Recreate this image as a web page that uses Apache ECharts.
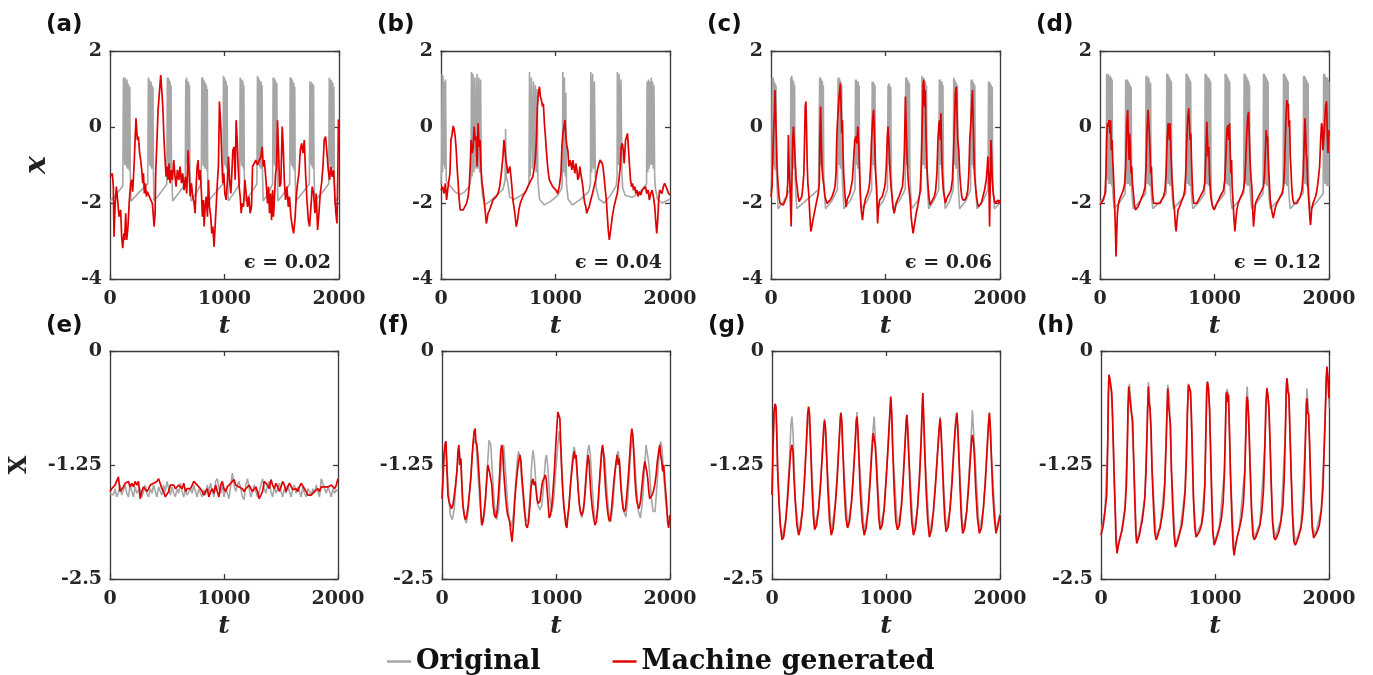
<!DOCTYPE html>
<html><head><meta charset="utf-8">
<script src="https://cdn.jsdelivr.net/npm/echarts@6/dist/echarts.min.js"></script>
<style>html,body{margin:0;padding:0;background:#fff}#c{width:1373px;height:675px}</style>
</head><body><div id="c"></div>
<script>
// ---------------- tick labels ----------------
const xTicks = [0, 1000, 2000];
const topTicks = [-4, -2, 0, 2];
const botTicks = [-2.5, -1.25, 0];
const panelLabels = ['(a)','(b)','(c)','(d)','(e)','(f)','(g)','(h)'];
const epsLabels = ['\u03f5 = 0.02','\u03f5 = 0.04','\u03f5 = 0.06','\u03f5 = 0.12'];
const seriesNames = ['Original','Machine generated'];

// ---------------- panel (a) ----------------
const aOrig = [[0,-1.95],[60,-1.75],[112,-1.55],
[117,1.3],[121,-0.9],[125,1.25],[129,-1.0],[133,1.3],[137,-1.0],[141,1.2],[145,-1.05],[149,1.25],[153,-1.1],[157,1.15],[161,-1.1],[165,1.1],[169,-1.15],[173,1.05],[177,-1.2],[183,-1.95],
[260,-1.7],[330,-1.5],
[335,1.3],[339,-0.9],[343,1.25],[347,-1.0],[351,1.2],[355,-1.05],[359,1.2],[363,-1.1],[367,1.1],[371,-1.1],[375,1.05],[379,-1.2],[385,-1.95],
[450,-1.7],[496,-1.5],
[501,1.3],[505,-0.9],[509,1.3],[513,-1.0],[517,1.25],[521,-1.05],[525,1.2],[529,-1.1],[533,1.1],[537,-1.15],[541,-1.3],[547,-1.95],
[610,-1.7],[657,-1.5],
[662,1.25],[666,-0.9],[670,1.3],[674,-1.0],[678,1.2],[682,-1.05],[686,1.2],[690,-1.1],[694,1.1],[698,-1.15],[702,-1.3],[708,-1.95],
[760,-1.7],[797,-1.5],
[802,1.3],[806,-0.9],[810,1.3],[814,-1.0],[818,1.25],[822,-1.05],[826,1.2],[830,-1.1],[834,1.15],[838,-1.1],[842,1.1],[846,-1.15],[850,1.0],[853,-1.3],[859,-1.95],
[930,-1.7],[986,-1.5],
[991,1.35],[995,-0.9],[999,1.3],[1003,-1.0],[1007,1.25],[1011,-1.05],[1015,1.2],[1019,-1.1],[1023,1.1],[1027,-1.25],[1033,-1.95],
[1090,-1.7],[1132,-1.5],
[1137,1.3],[1141,-0.9],[1145,1.25],[1149,-1.0],[1153,1.25],[1157,-1.05],[1161,1.2],[1165,-1.1],[1169,1.1],[1173,-1.25],[1179,-1.95],
[1240,-1.7],[1283,-1.5],
[1288,1.35],[1292,-0.9],[1296,1.3],[1300,-1.0],[1304,1.25],[1308,-1.05],[1312,1.2],[1316,-1.1],[1320,1.2],[1324,-1.1],[1328,1.1],[1332,-1.25],[1338,-1.95],
[1390,-1.7],[1420,-1.5],
[1425,1.3],[1429,-0.9],[1433,1.3],[1437,-1.0],[1441,1.25],[1445,-1.05],[1449,1.2],[1453,-1.1],[1457,1.15],[1461,-1.2],[1467,-1.95],
[1530,-1.7],[1569,-1.5],
[1574,1.3],[1578,-0.9],[1582,1.3],[1586,-1.0],[1590,1.25],[1594,-1.05],[1598,1.2],[1602,-1.1],[1606,1.15],[1610,-1.15],[1614,1.05],[1617,-1.3],[1623,-1.95],
[1690,-1.7],[1741,-1.5],
[1746,1.2],[1750,-0.9],[1754,1.2],[1758,-1.0],[1762,1.15],[1766,-1.05],[1770,1.15],[1774,-1.1],[1778,1.1],[1782,-1.2],[1788,-1.95],
[1860,-1.7],[1910,-1.5],
[1915,1.3],[1919,-0.9],[1923,1.25],[1927,-1.0],[1931,1.25],[1935,-1.05],[1939,1.2],[1943,-1.1],[1947,1.15],[1951,-1.1],[1955,1.05],[1959,-1.25],[1965,-1.95],
[2000,-1.85]];
const aPred = [[0,-1.31],[20,-1.22],[29,-1.57],[35,-2.89],[44,-2.10],[55,-1.57],[64,-1.83],[79,-2.36],[93,-2.18],[102,-2.89],[111,-3.19],[122,-2.80],[128,-2.97],[137,-2.27],[146,-2.97],[157,-2.62],[169,-1.92],[181,-1.48],[189,-1.39],[198,-1.70],[210,-1.04],[219,-0.34],[227,0.23],[239,-0.34],[248,-0.25],[259,-0.69],[268,-0.87],[277,-1.13],[286,-1.48],[292,-1.22],[300,-1.75],[309,-1.48],[318,-1.83],[326,-1.70],[341,-1.75],[356,-1.92],[370,-2.01],[379,-2.36],[385,-2.62],[394,-2.27],[399,-1.22],[408,-0.52],[420,0.45],[431,0.89],[443,1.37],[452,0.97],[461,0.54],[472,-0.34],[481,-0.87],[490,-1.31],[498,-1.04],[507,-1.39],[516,-0.96],[525,-1.48],[533,-1.13],[545,-1.39],[557,-0.87],[568,-1.31],[577,-1.57],[589,-1.13],[601,-1.39],[612,-1.04],[624,-1.48],[635,-1.22],[647,-1.66],[659,-1.31],[670,-1.75],[682,-0.61],[691,-1.22],[700,-1.83],[711,-1.48],[723,-1.83],[735,-2.01],[743,-2.27],[752,-1.57],[761,-1.04],[770,-0.87],[778,-1.39],[787,-1.13],[799,-1.75],[807,-2.36],[816,-1.92],[822,-2.62],[831,-2.10],[840,-1.83],[851,-2.36],[860,-1.39],[869,-2.10],[880,-2.36],[889,-2.80],[898,-2.62],[909,-3.15],[918,-2.62],[927,-2.10],[939,-1.39],[947,-1.04],[956,0.67],[968,-0.02],[977,-0.87],[985,-1.48],[994,-1.22],[1003,-1.75],[1014,-1.92],[1026,-1.39],[1035,-0.78],[1044,-1.39],[1055,-1.75],[1064,-1.22],[1073,-0.61],[1084,-0.52],[1093,-1.39],[1102,0.18],[1111,-0.34],[1119,-1.04],[1128,-1.57],[1137,-1.83],[1146,-2.27],[1154,-2.01],[1166,-2.10],[1178,-1.39],[1189,-1.75],[1201,-2.10],[1213,-1.83],[1224,-2.27],[1236,-2.10],[1245,-1.04],[1259,-0.96],[1274,-0.87],[1288,-1.00],[1303,-0.96],[1318,-0.78],[1329,-0.52],[1338,-1.04],[1347,-0.87],[1355,-1.13],[1364,-1.48],[1376,-2.01],[1385,-1.57],[1393,-2.27],[1402,-1.75],[1411,-2.45],[1420,-1.66],[1428,-2.36],[1437,-1.83],[1446,-1.22],[1455,-1.04],[1463,0.18],[1472,-0.61],[1481,-1.57],[1492,-1.48],[1504,0.01],[1513,-0.52],[1522,-1.39],[1533,-1.92],[1545,-1.57],[1557,-2.10],[1568,-1.83],[1580,-2.36],[1592,-2.62],[1603,-2.80],[1615,-2.45],[1627,-1.83],[1638,-1.48],[1650,-1.22],[1662,-0.61],[1673,-0.43],[1685,-0.69],[1697,-0.34],[1708,-1.22],[1720,-1.92],[1732,-2.45],[1743,-2.62],[1755,-2.10],[1766,-1.57],[1778,-1.75],[1790,-2.27],[1801,-1.75],[1813,-2.71],[1825,-2.27],[1836,-1.75],[1848,-1.48],[1860,-1.04],[1871,-0.34],[1883,-0.25],[1895,-0.69],[1906,-1.13],[1918,-1.39],[1929,-1.04],[1941,-1.31],[1953,-1.13],[1965,-1.92],[1973,-2.27],[1982,-2.54],[1990,-1.2],[1995,0.2],[2000,-0.4]];

// ---------------- panel (b) ----------------
const bOrig = [[0,-1.5],[6,-0.8],[10,1.4],[14,-1.2],[18,1.35],[24,-1.0],[28,1.2],[34,-1.1],[40,1.25],[46,-1.4],[60,-1.5],[80,-1.55],[120,-1.7],[165,-1.78],[210,-1.7],[250,-1.55],[262,-1.3],[266,1.45],[272,-1.3],[280,1.4],[288,-1.2],[296,1.3],[306,-1.1],[314,1.4],[322,-1.1],[330,1.3],[338,-1.2],[346,1.25],[352,-1.4],[362,-1.8],[382,-2.05],[430,-1.95],[483,-1.8],[540,-1.65],[560,-1.4],[564,-0.05],[570,-1.3],[582,-1.45],[590,-1.6],[600,-1.85],[640,-1.9],[700,-1.8],[744,-1.7],[768,-1.5],[773,1.45],[780,-1.3],[790,1.3],[800,-1.1],[808,1.2],[816,-1.0],[824,1.1],[832,-1.2],[840,1.0],[846,-1.4],[860,-1.9],[903,-2.05],[960,-1.95],[1020,-1.8],[1055,-1.6],[1060,-1.3],[1064,1.45],[1070,-1.2],[1078,1.3],[1086,-1.3],[1090,0.9],[1096,-1.5],[1110,-1.9],[1149,-2.05],[1220,-1.9],[1290,-1.7],[1305,-1.5],[1308,1.45],[1316,-1.2],[1324,1.4],[1332,-1.1],[1340,1.2],[1348,-1.3],[1355,-1.6],[1380,-1.9],[1424,-2.0],[1480,-1.8],[1530,-1.55],[1538,-1.3],[1540,1.45],[1548,-1.0],[1556,1.4],[1564,-1.1],[1572,1.25],[1580,-1.2],[1586,-1.6],[1610,-1.8],[1670,-1.85],[1740,-1.7],[1795,-1.5],[1800,1.2],[1806,-1.2],[1812,1.25],[1818,-1.1],[1824,1.2],[1830,-1.0],[1836,1.3],[1842,-1.0],[1848,1.2],[1854,-1.1],[1860,1.1],[1866,-1.3],[1872,-1.6],[1890,-1.9],[1930,-2.0],[2000,-1.9]];
const bPred = [[0,-1.66],[14,-1.57],[26,-1.75],[38,-1.48],[49,-1.92],[58,-1.66],[67,-1.61],[78,-1.22],[87,-0.34],[96,-0.21],[107,0.03],[116,-0.08],[124,-0.25],[133,-0.61],[142,-1.13],[150,-1.48],[159,-1.92],[168,-2.18],[179,-2.23],[194,-2.18],[208,-2.14],[223,-2.01],[237,-1.83],[246,-1.57],[255,-1.04],[263,-0.34],[272,-0.69],[281,-0.52],[289,0.01],[298,-0.34],[307,-0.25],[315,-1.04],[324,0.10],[333,-0.52],[341,-0.34],[350,-1.13],[359,-1.48],[368,-1.66],[376,-1.92],[385,-2.18],[396,-2.54],[411,-2.27],[425,-2.18],[440,-2.05],[454,-1.92],[469,-1.88],[483,-1.83],[498,-1.75],[512,-1.57],[527,-1.22],[541,-0.78],[550,-0.34],[559,-0.61],[567,-0.87],[576,-1.04],[585,-1.22],[593,-1.13],[602,-1.04],[611,-1.31],[619,-1.57],[628,-1.92],[637,-2.10],[645,-2.27],[657,-2.62],[669,-2.45],[680,-2.18],[692,-2.01],[703,-1.92],[715,-1.83],[729,-1.75],[744,-1.66],[758,-1.57],[773,-1.48],[787,-1.39],[802,-1.31],[816,-1.04],[825,-0.78],[833,-0.34],[842,0.54],[851,0.89],[860,1.06],[868,0.80],[877,0.71],[886,0.54],[894,0.62],[903,0.10],[912,-0.25],[920,-0.61],[929,-0.96],[938,-1.22],[946,-1.39],[961,-1.48],[975,-1.57],[990,-1.61],[1004,-1.66],[1019,-1.75],[1033,-1.57],[1048,-1.22],[1056,-0.52],[1065,-0.17],[1074,0.01],[1082,0.18],[1091,-0.25],[1100,-0.52],[1108,-0.61],[1117,-1.04],[1126,-0.87],[1134,-0.96],[1143,-1.13],[1152,-0.87],[1160,-1.04],[1169,-1.22],[1178,-0.96],[1187,-1.13],[1195,-1.39],[1204,-1.31],[1213,-1.04],[1221,-1.22],[1230,-1.39],[1239,-1.57],[1247,-1.83],[1256,-2.01],[1265,-2.10],[1273,-2.27],[1282,-2.18],[1294,-2.10],[1308,-1.92],[1323,-1.75],[1337,-1.57],[1351,-1.39],[1366,-1.13],[1380,-0.96],[1389,-0.87],[1398,-0.91],[1409,-0.96],[1418,-1.13],[1427,-1.39],[1435,-1.66],[1444,-1.92],[1453,-2.36],[1461,-2.71],[1470,-2.97],[1482,-2.71],[1496,-2.36],[1511,-2.10],[1525,-1.92],[1540,-1.75],[1554,-1.39],[1566,-1.04],[1574,-0.52],[1583,-0.43],[1592,-0.61],[1600,-0.96],[1612,-0.34],[1621,-0.25],[1629,-0.17],[1638,-0.61],[1647,-1.04],[1655,-1.39],[1664,-1.57],[1673,-1.48],[1681,-1.66],[1693,-1.57],[1702,-1.75],[1713,-1.66],[1722,-1.83],[1733,-1.70],[1745,-1.79],[1757,-1.66],[1771,-1.70],[1786,-1.57],[1797,-1.75],[1809,-1.66],[1820,-1.92],[1832,-1.75],[1843,-1.66],[1855,-1.83],[1867,-2.10],[1875,-2.45],[1884,-2.80],[1893,-2.45],[1901,-1.92],[1910,-1.66],[1919,-1.70],[1930,-1.75],[1942,-1.57],[1953,-1.48],[1965,-1.57],[1977,-1.66],[1988,-1.75],[2000,-1.79]];

// ---------------- panel (c) ----------------
const cOrig = [[0,-1.7],[8,-1.3],[12,1.3],[16,-1.0],[20,1.3],[24,-1.0],[28,1.2],[32,-1.1],[36,1.15],[40,-1.15],[44,1.1],[48,-1.2],[54,-1.6],[62,-2.15],[110,-1.95],[165,-1.65],[170,-1.3],[173,1.3],[177,-1.0],[182,1.35],[186,-1.0],[190,1.25],[194,-1.1],[198,1.2],[202,-1.1],[206,1.1],[210,-1.25],[216,-1.7],[225,-2.15],[300,-1.95],[415,-1.65],
[420,-1.6],[425,1.3],[429,-1.0],[433,1.3],[437,-1.0],[441,1.25],[445,-1.1],[449,1.2],[453,-1.1],[457,1.1],[461,-1.25],[467,-1.7],[476,-2.15],[530,-1.95],[580,-1.65],
[586,1.3],[590,-1.0],[594,1.3],[598,-1.0],[602,1.25],[606,-1.1],[610,1.2],[614,-1.1],[618,1.1],[622,-1.25],[628,-1.7],[637,-2.15],[690,-1.95],[733,-1.65],
[738,1.25],[742,-1.0],[746,1.25],[750,-1.0],[754,1.2],[758,-1.1],[762,1.2],[766,-1.1],[770,1.1],[774,-1.25],[780,-1.7],[789,-2.15],[840,-1.95],[879,-1.65],
[884,1.2],[888,-1.0],[892,1.2],[896,-1.0],[900,1.15],[904,-1.1],[908,1.1],[912,-1.1],[915,-1.3],[921,-1.7],[930,-2.15],[980,-1.95],[1017,-1.65],
[1022,1.1],[1026,-1.0],[1030,1.15],[1034,-1.0],[1038,1.1],[1042,-1.1],[1046,1.05],[1050,-1.2],[1056,-1.7],[1065,-2.15],[1120,-1.95],[1172,-1.65],
[1177,1.3],[1181,-1.0],[1185,1.3],[1189,-1.0],[1193,1.25],[1197,-1.1],[1201,1.2],[1205,-1.1],[1209,1.15],[1213,-1.2],[1219,-1.7],[1228,-2.15],[1280,-1.95],[1313,-1.65],
[1318,1.35],[1322,-1.0],[1326,1.3],[1330,-1.0],[1334,1.3],[1338,-1.0],[1342,1.2],[1346,-1.1],[1350,1.2],[1354,-1.1],[1358,1.1],[1362,-1.25],[1368,-1.7],[1377,-2.15],[1420,-1.95],[1465,-1.65],
[1470,1.25],[1474,-1.0],[1478,1.25],[1482,-1.0],[1486,1.2],[1490,-1.1],[1494,1.2],[1498,-1.1],[1502,1.1],[1506,-1.2],[1512,-1.7],[1521,-2.15],[1560,-1.95],[1591,-1.65],
[1596,1.3],[1600,-1.0],[1604,1.25],[1608,-1.0],[1612,1.2],[1616,-1.1],[1620,1.15],[1624,-1.1],[1628,1.1],[1632,-1.25],[1638,-1.7],[1647,-2.15],[1700,-1.95],[1743,-1.65],
[1748,1.25],[1752,-1.0],[1756,1.25],[1760,-1.0],[1764,1.2],[1768,-1.1],[1772,1.15],[1776,-1.1],[1780,1.1],[1784,-1.25],[1790,-1.7],[1799,-2.15],[1850,-1.95],[1895,-1.65],
[1900,1.2],[1904,-1.0],[1908,1.2],[1912,-1.0],[1916,1.15],[1920,-1.1],[1924,1.1],[1928,-1.1],[1932,1.05],[1936,-1.2],[1942,-1.7],[1951,-2.15],[2000,-2.0]];
const cPred = [[0,-1.83],[9,-1.57],[18,-0.52],[23,-0.08],[29,0.27],[35,0.97],[41,0.27],[47,-0.34],[53,-1.04],[61,-1.48],[70,-1.83],[79,-2.01],[94,-2.05],[108,-2.05],[123,-2.01],[138,-1.83],[146,-1.48],[152,-0.21],[158,-1.04],[167,-1.66],[176,-2.62],[184,-1.22],[190,-0.34],[196,0.01],[205,-0.52],[211,-0.87],[220,-1.39],[228,-1.57],[237,-1.83],[246,-1.96],[255,-1.92],[269,-1.83],[278,-1.57],[287,-1.22],[293,-0.34],[299,0.54],[305,0.67],[310,0.01],[316,-0.96],[322,-1.48],[331,-1.83],[340,-2.36],[348,-2.75],[357,-2.62],[366,-2.45],[378,-2.27],[389,-2.10],[401,-1.92],[413,-1.75],[422,-1.48],[427,-0.34],[433,0.54],[439,-0.34],[445,-1.04],[454,-1.39],[463,-1.57],[471,-1.83],[480,-1.92],[489,-2.01],[504,-2.01],[518,-1.92],[533,-1.83],[548,-1.70],[559,-1.57],[568,-1.22],[574,-0.34],[580,0.10],[589,0.54],[597,0.89],[606,1.15],[612,0.54],[618,-0.17],[624,0.18],[630,-0.78],[635,-1.22],[641,-1.57],[647,-1.83],[656,-2.10],[665,-1.92],[676,-1.83],[688,-1.75],[700,-1.57],[711,-1.39],[723,-0.78],[732,-0.34],[741,-0.25],[750,-0.43],[758,0.01],[767,-0.52],[776,-1.39],[782,-1.92],[791,-2.27],[799,-2.45],[808,-2.18],[817,-2.01],[826,-1.88],[834,-1.83],[843,-1.75],[852,-1.66],[861,-1.48],[870,-1.04],[878,-0.34],[887,0.18],[896,0.45],[905,-0.34],[914,-1.22],[922,-1.57],[931,-2.54],[940,-2.10],[949,-1.92],[957,-1.92],[972,-1.83],[987,-1.66],[998,-1.48],[1007,-1.04],[1016,-0.25],[1022,0.01],[1031,-0.52],[1039,-1.13],[1048,-1.57],[1057,-1.83],[1066,-2.10],[1075,-2.27],[1083,-2.18],[1092,-2.01],[1104,-1.92],[1118,-1.83],[1133,-1.70],[1148,-1.57],[1157,-1.22],[1165,-0.61],[1174,0.80],[1180,0.10],[1186,-0.61],[1192,-1.04],[1198,-1.39],[1206,-1.66],[1215,-1.92],[1224,-2.36],[1233,-2.62],[1241,-2.80],[1250,-2.62],[1259,-2.45],[1268,-2.27],[1280,-2.10],[1291,-1.92],[1303,-1.66],[1312,-1.04],[1321,0.10],[1329,1.15],[1335,1.24],[1341,0.54],[1347,0.97],[1353,-0.17],[1362,-1.04],[1370,-1.48],[1379,-1.83],[1388,-2.05],[1397,-2.01],[1411,-1.92],[1426,-1.83],[1438,-1.66],[1449,-1.22],[1458,-0.34],[1467,0.10],[1473,0.18],[1479,-0.34],[1484,0.36],[1490,-0.61],[1496,-1.22],[1505,-1.66],[1514,-1.83],[1523,-2.01],[1531,-1.92],[1543,-1.83],[1558,-1.75],[1572,-1.66],[1584,-1.39],[1593,-0.78],[1602,0.10],[1610,0.89],[1619,1.06],[1625,0.36],[1631,-0.34],[1640,-0.61],[1648,-1.22],[1657,-1.57],[1666,-1.83],[1675,-1.92],[1684,-1.96],[1695,-1.92],[1707,-1.83],[1719,-1.66],[1728,-1.22],[1736,-0.34],[1745,0.10],[1754,0.71],[1760,0.97],[1766,0.10],[1771,-0.52],[1777,-1.22],[1786,-1.57],[1795,-1.83],[1804,-2.01],[1812,-2.10],[1824,-2.10],[1836,-2.01],[1851,-1.83],[1865,-1.66],[1880,-1.39],[1889,-1.04],[1894,-0.78],[1903,-1.39],[1909,-2.62],[1915,-1.39],[1921,-0.34],[1927,-0.78],[1932,-1.39],[1941,-1.75],[1950,-1.92],[1959,-2.01],[1971,-1.96],[1982,-1.92],[1994,-2.01],[2000,-1.92]];

// ---------------- panel (d) ----------------
const dOrig = [[0,-2.0],[30,-1.85],[55,-1.7],[58,1.4],[62,-1.4],[66,1.35],[70,-1.4],[74,1.4],[78,-1.5],[82,1.3],[86,-1.5],[90,1.35],[94,-1.5],[98,1.3],[102,-1.55],[106,1.25],[110,-1.6],[116,-1.9],[125,-2.15],[180,-1.95],[220,-1.75],
[224,1.25],[228,-1.4],[232,1.2],[236,-1.5],[240,1.25],[244,-1.5],[248,1.2],[252,-1.5],[256,1.15],[260,-1.55],[264,1.1],[268,-1.55],[272,1.05],[276,-1.6],[282,-1.9],[291,-2.15],[350,-1.95],[398,-1.75],
[402,1.35],[406,-1.4],[410,1.35],[414,-1.5],[418,1.3],[422,-1.5],[426,1.3],[430,-1.55],[434,1.2],[438,-1.55],[442,1.15],[446,-1.6],[452,-1.9],[461,-2.15],[530,-1.95],[579,-1.75],
[583,1.4],[587,-1.4],[591,1.4],[595,-1.5],[599,1.35],[603,-1.5],[607,1.3],[611,-1.55],[615,1.25],[619,-1.55],[623,1.2],[627,-1.6],[633,-1.9],[642,-2.15],[700,-1.95],[748,-1.75],
[752,1.4],[756,-1.4],[760,1.4],[764,-1.5],[768,1.35],[772,-1.5],[776,1.3],[780,-1.55],[784,1.25],[788,-1.55],[792,1.2],[796,-1.6],[802,-1.9],[811,-2.15],[870,-1.95],[914,-1.75],
[918,1.4],[922,-1.4],[926,1.4],[930,-1.5],[934,1.35],[938,-1.5],[942,1.3],[946,-1.55],[950,1.3],[954,-1.55],[958,1.25],[962,-1.55],[966,1.2],[970,-1.6],[976,-1.9],[985,-2.15],[1040,-1.95],[1089,-1.75],
[1093,1.4],[1097,-1.4],[1101,1.4],[1105,-1.5],[1109,1.35],[1113,-1.5],[1117,1.3],[1121,-1.55],[1125,1.25],[1129,-1.55],[1133,1.2],[1137,-1.6],[1143,-1.9],[1152,-2.15],[1210,-1.95],[1255,-1.75],
[1259,1.4],[1263,-1.4],[1267,1.4],[1271,-1.5],[1275,1.35],[1279,-1.5],[1283,1.3],[1287,-1.55],[1291,1.25],[1295,-1.55],[1299,1.2],[1303,-1.55],[1306,1.1],[1310,-1.6],[1316,-1.9],[1325,-2.15],[1380,-1.95],[1424,-1.75],
[1428,1.4],[1432,-1.4],[1436,1.4],[1440,-1.5],[1444,1.35],[1448,-1.5],[1452,1.3],[1456,-1.55],[1460,1.25],[1464,-1.55],[1468,1.2],[1472,-1.6],[1478,-1.9],[1487,-2.15],[1550,-1.95],[1599,-1.75],
[1603,1.4],[1607,-1.4],[1611,1.4],[1615,-1.5],[1619,1.35],[1623,-1.5],[1627,1.3],[1631,-1.55],[1635,1.25],[1639,-1.55],[1643,1.2],[1647,-1.6],[1653,-1.9],[1662,-2.15],[1720,-1.95],[1774,-1.75],
[1778,1.35],[1782,-1.4],[1786,1.35],[1790,-1.5],[1794,1.3],[1798,-1.5],[1802,1.25],[1806,-1.55],[1810,1.2],[1814,-1.55],[1818,1.15],[1822,-1.6],[1828,-1.9],[1837,-2.15],[1900,-1.95],[1949,-1.75],
[1953,1.4],[1957,-1.4],[1961,1.4],[1965,-1.5],[1969,1.35],[1973,-1.5],[1977,1.3],[1981,-1.55],[1985,1.3],[1989,-1.55],[1993,1.25],[1997,-1.55],[2000,1.2]];
const dPred = [[0,-2.05],[15,-2.01],[29,-1.92],[44,-1.75],[52,-1.22],[58,-0.34],[64,0.10],[73,0.01],[79,0.18],[87,-0.17],[93,0.18],[99,-0.61],[105,-0.34],[111,-0.87],[117,-1.22],[122,-1.57],[128,-2.10],[134,-2.62],[140,-3.41],[146,-2.80],[152,-2.27],[160,-2.05],[169,-1.92],[181,-1.83],[192,-1.75],[204,-1.66],[216,-1.48],[224,-1.04],[233,0.10],[242,0.45],[248,-0.34],[254,-0.87],[259,-0.17],[265,-0.61],[271,-1.22],[277,-1.04],[283,-1.48],[292,-1.75],[300,-2.05],[309,-2.18],[321,-2.23],[332,-2.10],[344,-2.01],[356,-1.92],[367,-1.83],[379,-1.75],[394,-1.57],[402,-1.04],[411,-0.08],[420,0.45],[426,0.49],[431,-0.17],[437,-0.61],[443,-1.22],[449,-1.04],[455,-1.57],[461,-1.83],[469,-2.01],[481,-2.05],[496,-2.01],[510,-2.05],[525,-2.01],[539,-1.92],[554,-1.83],[568,-1.66],[577,-1.22],[586,-0.34],[595,0.10],[600,0.01],[606,-0.34],[612,0.10],[618,-0.52],[624,-1.04],[630,-1.39],[636,-1.66],[641,-1.92],[650,-2.18],[659,-2.62],[665,-2.75],[673,-2.45],[682,-2.18],[694,-2.10],[705,-2.01],[717,-1.92],[729,-1.83],[740,-1.66],[749,-1.22],[758,-0.34],[767,0.27],[775,0.49],[781,0.10],[787,-0.34],[793,-0.17],[799,-0.87],[805,-1.39],[810,-1.75],[819,-2.01],[831,-2.05],[845,-2.01],[860,-1.92],[875,-1.83],[889,-1.75],[904,-1.66],[915,-1.48],[924,-0.78],[933,0.14],[939,-0.34],[944,-0.78],[950,-0.52],[956,-1.22],[962,-1.57],[968,-1.83],[977,-2.01],[985,-2.10],[997,-2.18],[1009,-2.10],[1020,-2.01],[1035,-1.92],[1049,-1.83],[1064,-1.75],[1079,-1.66],[1090,-1.39],[1099,-0.78],[1108,-0.08],[1116,0.05],[1125,-0.34],[1131,0.10],[1137,-0.61],[1143,-1.22],[1149,-0.87],[1154,-1.57],[1160,-1.83],[1169,-2.36],[1178,-2.75],[1186,-2.45],[1195,-2.18],[1207,-2.01],[1218,-1.92],[1230,-1.83],[1242,-1.75],[1253,-1.66],[1265,-1.39],[1274,-0.78],[1283,-0.08],[1291,0.27],[1297,0.40],[1303,-0.17],[1312,-0.96],[1320,-1.39],[1326,-1.57],[1335,-2.27],[1341,-2.62],[1350,-2.27],[1358,-2.01],[1370,-1.92],[1385,-1.83],[1399,-1.75],[1414,-1.70],[1428,-1.57],[1437,-1.22],[1446,-0.52],[1452,-0.08],[1458,-0.34],[1463,-0.25],[1469,-0.78],[1475,-1.22],[1481,-1.57],[1487,-1.92],[1495,-2.10],[1504,-2.27],[1513,-2.40],[1522,-2.27],[1533,-2.10],[1545,-2.01],[1560,-1.92],[1574,-1.83],[1589,-1.75],[1603,-1.57],[1612,-1.04],[1621,-0.08],[1627,0.40],[1632,0.71],[1638,0.54],[1644,0.62],[1650,0.01],[1656,0.18],[1662,-0.78],[1667,-1.04],[1673,-1.48],[1679,-1.75],[1685,-1.92],[1694,-2.01],[1705,-2.05],[1720,-2.01],[1734,-1.92],[1749,-1.83],[1764,-1.66],[1775,-1.22],[1784,-0.34],[1790,0.23],[1796,-0.17],[1801,-0.69],[1807,-0.87],[1813,-1.39],[1819,-1.75],[1825,-2.01],[1834,-2.45],[1839,-2.58],[1848,-2.18],[1860,-2.01],[1871,-1.92],[1883,-1.83],[1895,-1.66],[1906,-1.39],[1918,-1.04],[1927,-0.34],[1935,0.10],[1941,0.01],[1947,-0.61],[1953,-0.34],[1962,0.10],[1970,0.54],[1979,0.67],[1985,-0.17],[1991,-0.69],[1997,-0.08],[2000,-0.25]];

// ---------------- panel (e): evenly sampled over t = 0..2000 ----------------
const eOrig = [-1.56,-1.54,-1.58,-1.51,-1.60,-1.56,-1.47,-1.58,-1.60,-1.47,-1.56,-1.60,-1.47,-1.54,-1.60,-1.49,-1.56,-1.58,-1.51,-1.60,-1.54,-1.47,-1.56,-1.60,-1.51,-1.56,-1.47,-1.54,-1.60,-1.49,-1.54,-1.58,-1.47,-1.54,-1.43,-1.51,-1.58,-1.49,-1.56,-1.60,-1.51,-1.56,-1.45,-1.54,-1.60,-1.52,-1.58,-1.60,-1.51,-1.56,-1.47,-1.54,-1.60,-1.51,-1.56,-1.60,-1.52,-1.58,-1.47,-1.54,-1.45,-1.54,-1.60,-1.43,-1.40,-1.51,-1.56,-1.47,-1.60,-1.51,-1.56,-1.62,-1.47,-1.34,-1.47,-1.54,-1.47,-1.43,-1.51,-1.60,-1.63,-1.47,-1.40,-1.51,-1.60,-1.54,-1.47,-1.54,-1.60,-1.54,-1.47,-1.40,-1.51,-1.56,-1.47,-1.43,-1.54,-1.60,-1.49,-1.56,-1.51,-1.45,-1.54,-1.60,-1.51,-1.56,-1.47,-1.54,-1.60,-1.51,-1.47,-1.56,-1.49,-1.54,-1.60,-1.49,-1.56,-1.60,-1.51,-1.54,-1.58,-1.51,-1.56,-1.47,-1.54,-1.60,-1.40,-1.38,-1.51,-1.56,-1.49,-1.54,-1.60,-1.51,-1.56,-1.52,-1.54];
const ePred = [-1.54,-1.51,-1.52,-1.47,-1.45,-1.38,-1.54,-1.54,-1.49,-1.45,-1.47,-1.43,-1.49,-1.45,-1.49,-1.43,-1.47,-1.43,-1.62,-1.54,-1.49,-1.49,-1.54,-1.51,-1.47,-1.49,-1.45,-1.47,-1.43,-1.40,-1.41,-1.51,-1.54,-1.60,-1.58,-1.54,-1.47,-1.45,-1.47,-1.51,-1.52,-1.47,-1.49,-1.51,-1.45,-1.54,-1.51,-1.52,-1.51,-1.47,-1.43,-1.41,-1.47,-1.45,-1.51,-1.54,-1.58,-1.54,-1.51,-1.60,-1.54,-1.51,-1.56,-1.47,-1.54,-1.60,-1.47,-1.43,-1.51,-1.54,-1.49,-1.47,-1.45,-1.43,-1.41,-1.47,-1.45,-1.49,-1.47,-1.51,-1.54,-1.51,-1.49,-1.47,-1.51,-1.54,-1.56,-1.49,-1.54,-1.62,-1.63,-1.54,-1.43,-1.41,-1.47,-1.51,-1.41,-1.47,-1.51,-1.45,-1.49,-1.54,-1.49,-1.43,-1.47,-1.54,-1.49,-1.45,-1.43,-1.52,-1.54,-1.51,-1.54,-1.49,-1.45,-1.47,-1.51,-1.54,-1.58,-1.60,-1.58,-1.56,-1.54,-1.52,-1.51,-1.54,-1.49,-1.51,-1.49,-1.47,-1.49,-1.51,-1.47,-1.49,-1.51,-1.47,-1.40];

// ---------------- panel (f) ----------------
const fOrig = [[0,-1.58],[15,-1.25],[29,-0.99],[44,-1.25],[58,-1.58],[73,-1.80],[90,-1.85],[108,-1.73],[125,-1.40],[143,-1.14],[154,-1.10],[166,-1.29],[180,-1.62],[198,-1.83],[213,-1.89],[230,-1.76],[247,-1.47],[265,-1.14],[279,-0.96],[288,-0.94],[300,-1.03],[314,-1.32],[332,-1.65],[349,-1.91],[364,-1.87],[381,-1.65],[399,-1.25],[413,-0.98],[428,-1.03],[445,-1.40],[463,-1.73],[480,-1.85],[498,-1.73],[515,-1.32],[530,-1.07],[541,-1.03],[556,-1.29],[573,-1.62],[591,-1.87],[608,-1.93],[626,-1.80],[643,-1.51],[661,-1.18],[672,-1.10],[684,-1.18],[702,-1.47],[719,-1.73],[736,-1.85],[754,-1.87],[771,-1.62],[786,-1.25],[798,-1.09],[809,-1.18],[824,-1.47],[841,-1.69],[859,-1.74],[876,-1.69],[894,-1.43],[908,-1.18],[917,-1.14],[929,-1.29],[946,-1.62],[964,-1.76],[981,-1.62],[998,-1.32],[1016,-1.03],[1028,-0.88],[1039,-1.03],[1057,-1.47],[1074,-1.76],[1092,-1.89],[1109,-1.76],[1127,-1.47],[1144,-1.18],[1159,-1.05],[1173,-1.14],[1191,-1.43],[1208,-1.73],[1226,-1.83],[1243,-1.73],[1260,-1.40],[1278,-1.10],[1290,-1.03],[1301,-1.14],[1319,-1.51],[1336,-1.80],[1354,-1.85],[1371,-1.69],[1389,-1.32],[1406,-1.05],[1418,-1.03],[1429,-1.18],[1447,-1.54],[1464,-1.80],[1482,-1.87],[1499,-1.69],[1517,-1.36],[1534,-1.14],[1546,-1.10],[1560,-1.25],[1578,-1.58],[1595,-1.76],[1613,-1.82],[1630,-1.62],[1648,-1.25],[1662,-0.99],[1674,-0.96],[1688,-1.14],[1706,-1.51],[1723,-1.76],[1741,-1.83],[1758,-1.65],[1776,-1.29],[1790,-1.03],[1802,-1.01],[1816,-1.25],[1834,-1.58],[1851,-1.76],[1869,-1.76],[1886,-1.47],[1904,-1.14],[1918,-0.99],[1930,-1.07],[1947,-1.40],[1965,-1.69],[1982,-1.83],[2000,-1.83]];
const fPred = [[0,-1.62],[9,-1.40],[17,-1.14],[26,-1.03],[35,-0.99],[44,-1.32],[52,-1.58],[61,-1.65],[73,-1.69],[84,-1.73],[96,-1.69],[108,-1.58],[119,-1.47],[131,-1.32],[140,-1.10],[148,-1.03],[157,-1.25],[166,-1.18],[175,-1.47],[183,-1.69],[195,-1.80],[207,-1.85],[218,-1.80],[230,-1.69],[242,-1.54],[253,-1.40],[265,-1.14],[274,-0.99],[282,-0.88],[291,-0.85],[297,-0.99],[306,-1.03],[314,-1.14],[323,-1.32],[332,-1.51],[341,-1.76],[349,-1.91],[358,-1.87],[370,-1.76],[381,-1.62],[393,-1.40],[402,-1.25],[410,-1.23],[416,-1.32],[425,-1.32],[437,-1.47],[448,-1.69],[460,-1.80],[472,-1.83],[483,-1.76],[495,-1.58],[507,-1.32],[515,-1.10],[524,-1.03],[533,-1.10],[541,-1.32],[550,-1.47],[559,-1.62],[568,-1.73],[576,-1.80],[585,-1.83],[594,-1.87],[603,-1.98],[614,-2.09],[626,-1.91],[638,-1.65],[649,-1.47],[661,-1.32],[672,-1.21],[684,-1.14],[693,-1.21],[702,-1.40],[710,-1.51],[719,-1.65],[728,-1.80],[736,-1.91],[748,-1.94],[760,-1.87],[771,-1.69],[780,-1.51],[789,-1.43],[798,-1.40],[806,-1.47],[815,-1.43],[824,-1.51],[833,-1.62],[841,-1.67],[850,-1.69],[859,-1.65],[870,-1.54],[882,-1.43],[894,-1.40],[905,-1.36],[914,-1.40],[923,-1.54],[932,-1.69],[940,-1.83],[952,-1.80],[964,-1.69],[975,-1.51],[987,-1.29],[998,-1.03],[1007,-0.85],[1016,-0.67],[1025,-0.65],[1034,-0.74],[1042,-1.03],[1051,-1.32],[1060,-1.54],[1068,-1.69],[1077,-1.80],[1086,-1.91],[1095,-1.94],[1103,-1.83],[1115,-1.69],[1127,-1.47],[1138,-1.32],[1150,-1.18],[1159,-1.10],[1167,-1.18],[1176,-1.14],[1185,-1.32],[1194,-1.51],[1202,-1.65],[1214,-1.76],[1226,-1.80],[1237,-1.76],[1249,-1.65],[1260,-1.47],[1272,-1.25],[1281,-1.14],[1290,-1.21],[1298,-1.40],[1307,-1.58],[1319,-1.73],[1330,-1.83],[1342,-1.91],[1354,-1.87],[1365,-1.73],[1377,-1.51],[1389,-1.29],[1400,-1.10],[1409,-1.03],[1418,-1.14],[1426,-1.32],[1435,-1.51],[1444,-1.65],[1453,-1.76],[1461,-1.83],[1470,-1.87],[1482,-1.80],[1493,-1.65],[1505,-1.47],[1517,-1.32],[1528,-1.21],[1537,-1.14],[1546,-1.25],[1554,-1.18],[1563,-1.36],[1572,-1.54],[1581,-1.65],[1589,-1.73],[1598,-1.76],[1610,-1.73],[1621,-1.58],[1633,-1.40],[1645,-1.18],[1656,-0.96],[1665,-0.85],[1674,-0.92],[1683,-1.14],[1691,-1.36],[1700,-1.54],[1709,-1.65],[1717,-1.69],[1726,-1.73],[1735,-1.69],[1744,-1.62],[1755,-1.47],[1767,-1.32],[1779,-1.21],[1787,-1.20],[1796,-1.32],[1805,-1.40],[1814,-1.54],[1822,-1.62],[1831,-1.62],[1843,-1.58],[1854,-1.54],[1866,-1.47],[1878,-1.36],[1889,-1.21],[1901,-1.10],[1910,-1.03],[1918,-1.14],[1927,-1.21],[1936,-1.32],[1945,-1.25],[1953,-1.40],[1962,-1.54],[1971,-1.69],[1979,-1.87],[1988,-1.94],[2000,-1.80]];

// ---------------- panel (g) ----------------
const gOrig = [[0,-1.58],[18,-0.70],[26,-0.59],[35,-0.63],[50,-1.32],[73,-1.91],[88,-2.05],[120,-1.85],[152,-1.25],[166,-0.81],[175,-0.72],[184,-0.88],[204,-1.62],[234,-2.00],[269,-1.73],[301,-1.03],[321,-0.63],[339,-1.03],[374,-1.94],[409,-1.73],[441,-1.14],[461,-0.74],[479,-1.14],[520,-2.00],[555,-1.69],[587,-1.03],[604,-0.67],[622,-1.10],[663,-1.93],[698,-1.65],[727,-1.07],[745,-0.67],[762,-1.14],[809,-2.00],[844,-1.73],[876,-1.03],[896,-0.72],[914,-1.14],[949,-1.94],[984,-1.73],[1019,-1.03],[1042,-0.52],[1060,-1.10],[1101,-1.94],[1136,-1.69],[1168,-0.99],[1183,-0.70],[1200,-1.14],[1241,-2.00],[1276,-1.73],[1308,-0.99],[1323,-0.48],[1340,-1.10],[1381,-2.02],[1416,-1.76],[1451,-1.14],[1475,-0.72],[1492,-1.14],[1527,-1.96],[1562,-1.73],[1594,-1.10],[1621,-0.67],[1638,-1.10],[1673,-1.98],[1708,-1.76],[1740,-1.10],[1758,-0.65],[1775,-1.03],[1819,-1.98],[1854,-1.73],[1886,-1.10],[1907,-0.67],[1924,-1.14],[1965,-1.98],[2000,-1.78]];
const gPred = [[0,-1.58],[9,-1.03],[18,-0.67],[26,-0.58],[35,-0.61],[41,-0.85],[50,-1.32],[61,-1.65],[73,-1.91],[88,-2.07],[102,-2.04],[120,-1.87],[137,-1.62],[152,-1.32],[164,-1.10],[175,-1.03],[184,-1.10],[193,-1.40],[204,-1.65],[219,-1.91],[234,-2.02],[251,-1.94],[269,-1.73],[286,-1.40],[301,-1.03],[312,-0.70],[321,-0.61],[330,-0.70],[339,-1.03],[350,-1.47],[362,-1.80],[374,-1.96],[391,-1.91],[409,-1.73],[426,-1.47],[441,-1.14],[453,-0.85],[461,-0.76],[470,-0.85],[479,-1.14],[491,-1.54],[505,-1.87],[520,-2.02],[537,-1.94],[555,-1.69],[572,-1.40],[587,-1.03],[599,-0.74],[604,-0.68],[613,-0.77],[622,-1.10],[634,-1.51],[648,-1.83],[663,-1.94],[680,-1.87],[698,-1.65],[712,-1.40],[727,-1.07],[739,-0.77],[745,-0.72],[753,-0.85],[762,-1.14],[774,-1.54],[791,-1.87],[809,-2.02],[826,-1.94],[844,-1.73],[861,-1.43],[876,-1.10],[888,-0.90],[896,-0.88],[905,-1.03],[914,-1.21],[926,-1.54],[937,-1.83],[949,-1.96],[967,-1.91],[984,-1.73],[1002,-1.40],[1019,-1.03],[1034,-0.67],[1042,-0.50],[1051,-0.70],[1060,-1.10],[1072,-1.54],[1086,-1.87],[1101,-1.96],[1118,-1.91],[1136,-1.69],[1153,-1.36],[1168,-0.99],[1177,-0.77],[1183,-0.70],[1191,-0.85],[1200,-1.14],[1212,-1.54],[1226,-1.87],[1241,-2.02],[1259,-1.94],[1276,-1.73],[1294,-1.40],[1308,-0.99],[1317,-0.63],[1323,-0.46],[1332,-0.77],[1340,-1.10],[1352,-1.54],[1367,-1.87],[1381,-2.04],[1399,-1.96],[1416,-1.76],[1434,-1.47],[1451,-1.14],[1466,-0.85],[1475,-0.74],[1483,-0.88],[1492,-1.14],[1504,-1.54],[1515,-1.83],[1527,-1.98],[1545,-1.93],[1562,-1.73],[1580,-1.43],[1594,-1.10],[1609,-0.81],[1621,-0.68],[1629,-0.81],[1638,-1.10],[1650,-1.51],[1661,-1.83],[1673,-2.00],[1691,-1.94],[1708,-1.76],[1726,-1.47],[1740,-1.18],[1752,-0.96],[1758,-0.92],[1767,-0.99],[1775,-1.14],[1787,-1.51],[1802,-1.83],[1819,-2.00],[1837,-1.94],[1854,-1.73],[1872,-1.43],[1886,-1.10],[1898,-0.81],[1907,-0.68],[1916,-0.85],[1924,-1.14],[1936,-1.54],[1951,-1.83],[1965,-2.00],[1983,-1.91],[2000,-1.80]];

// ---------------- panel (h) ----------------
const hOrig = [[0,-2.0],[35,-1.74],[59,-1.0],[70,-0.26],[82,-0.33],[100,-0.65],[123,-1.66],[141,-2.2],[182,-1.96],[211,-1.71],[231,-1.0],[249,-0.36],[266,-0.62],[287,-1.2],[313,-2.09],[348,-1.92],[384,-1.6],[404,-0.86],[416,-0.34],[430,-0.6],[448,-1.3],[483,-2.05],[518,-1.92],[559,-1.45],[580,-0.6],[586,-0.37],[600,-0.53],[618,-1.3],[653,-2.13],[694,-1.96],[738,-1.52],[758,-0.65],[767,-0.36],[785,-0.43],[811,-1.6],[834,-2.02],[881,-1.89],[911,-1.45],[928,-0.4],[934,-0.33],[952,-0.61],[981,-1.96],[993,-2.11],[1039,-1.92],[1083,-1.3],[1098,-0.47],[1104,-0.42],[1118,-0.46],[1136,-1.34],[1168,-2.22],[1215,-1.92],[1262,-1.3],[1277,-0.5],[1282,-0.39],[1297,-0.75],[1321,-1.74],[1344,-2.05],[1394,-1.89],[1438,-1.0],[1455,-0.4],[1473,-0.6],[1505,-1.85],[1528,-2.05],[1578,-1.85],[1616,-0.94],[1631,-0.3],[1648,-0.46],[1681,-1.81],[1704,-2.11],[1754,-1.92],[1792,-1.0],[1806,-0.41],[1821,-0.66],[1853,-1.92],[1880,-2.02],[1932,-1.74],[1959,-1.0],[1976,-0.3],[1982,-0.2],[1991,-0.28],[2000,-0.62]];
const hPred = [[0,-2.02],[20,-1.91],[35,-1.76],[50,-1.58],[59,-1.03],[64,-0.48],[70,-0.26],[76,-0.30],[82,-0.35],[88,-0.34],[94,-0.45],[100,-0.67],[108,-1.03],[114,-1.32],[123,-1.69],[132,-2.09],[141,-2.22],[152,-2.13],[167,-2.05],[182,-1.98],[196,-1.87],[211,-1.73],[223,-1.47],[231,-1.03],[237,-0.59],[243,-0.39],[249,-0.37],[258,-0.41],[266,-0.67],[272,-0.65],[278,-0.77],[287,-1.21],[296,-1.62],[305,-1.98],[313,-2.11],[325,-2.09],[337,-2.02],[348,-1.94],[360,-1.87],[372,-1.76],[384,-1.62],[395,-1.32],[404,-0.88],[410,-0.59],[416,-0.39],[422,-0.57],[430,-0.63],[439,-0.85],[448,-1.32],[460,-1.69],[471,-1.98],[483,-2.07],[495,-2.04],[507,-1.98],[518,-1.94],[533,-1.83],[548,-1.69],[559,-1.47],[571,-1.03],[580,-0.63],[586,-0.41],[591,-0.57],[600,-0.56],[609,-0.81],[618,-1.32],[630,-1.73],[641,-2.02],[653,-2.15],[665,-2.11],[679,-2.05],[694,-1.98],[709,-1.91],[723,-1.76],[738,-1.54],[750,-1.14],[758,-0.67],[767,-0.37],[776,-0.35],[785,-0.45],[793,-0.70],[802,-1.14],[811,-1.62],[823,-1.94],[834,-2.04],[846,-2.02],[864,-1.98],[881,-1.91],[899,-1.76],[911,-1.47],[919,-0.96],[928,-0.41],[934,-0.34],[943,-0.41],[952,-0.63],[960,-1.03],[969,-1.51],[981,-1.98],[993,-2.13],[1004,-2.09],[1022,-2.02],[1039,-1.94],[1057,-1.83],[1072,-1.65],[1083,-1.32],[1092,-0.85],[1098,-0.48],[1104,-0.45],[1110,-0.56],[1118,-0.48],[1127,-0.88],[1136,-1.36],[1148,-1.83],[1160,-2.16],[1168,-2.24],[1180,-2.13],[1198,-2.02],[1215,-1.94],[1233,-1.83],[1250,-1.65],[1262,-1.32],[1271,-0.88],[1277,-0.56],[1282,-0.50],[1288,-0.56],[1297,-0.81],[1309,-1.32],[1321,-1.76],[1332,-2.02],[1344,-2.07],[1359,-2.04],[1376,-1.98],[1394,-1.91],[1411,-1.76],[1426,-1.51],[1438,-1.03],[1446,-0.59],[1455,-0.41],[1464,-0.48],[1473,-0.63],[1482,-0.96],[1493,-1.47],[1505,-1.87],[1517,-2.04],[1528,-2.07],[1543,-2.04],[1561,-1.98],[1578,-1.87],[1596,-1.69],[1607,-1.40],[1616,-0.96],[1625,-0.41],[1631,-0.30],[1640,-0.45],[1648,-0.48],[1657,-0.88],[1669,-1.40],[1681,-1.83],[1692,-2.09],[1704,-2.13],[1719,-2.09],[1736,-2.02],[1754,-1.94],[1771,-1.76],[1783,-1.47],[1792,-1.03],[1801,-0.59],[1806,-0.52],[1812,-0.67],[1821,-0.70],[1830,-1.03],[1842,-1.58],[1853,-1.94],[1865,-2.05],[1880,-2.04],[1897,-1.98],[1915,-1.91],[1932,-1.76],[1947,-1.51],[1959,-1.03],[1968,-0.67],[1976,-0.30],[1982,-0.17],[1991,-0.30],[2000,-0.52]];

// ---------------- build chart ----------------
function evenly(vals){ return vals.map((v,i)=>[i*xTicks[2]/(vals.length-1), v]); }
const panelData = [
  [aOrig,aPred],[bOrig,bPred],[cOrig,cPred],[dOrig,dPred],
  [evenly(eOrig),evenly(ePred)],[fOrig,fPred],[gOrig,gPred],[hOrig,hPred]
];
const boxes = [
  {left:110,top:51,width:229,height:228},{left:441,top:51,width:229,height:228},
  {left:771,top:51,width:229,height:228},{left:1100,top:51,width:229,height:228},
  {left:110,top:351,width:228,height:228},{left:442,top:351,width:228,height:228},
  {left:772,top:351,width:228,height:228},{left:1101,top:351,width:228,height:228}
];
const AX = '#3a3a3a';
const tickFont = {fontFamily:'DejaVu Serif', fontWeight:'bold', fontSize:19, color:'#262626'};
const plain = v => String(v);
const grids=[], xAxes=[], yAxes=[], series=[], graphics=[];
boxes.forEach((b,i)=>{
  const top = i<4;
  const yt = top ? topTicks : botTicks;
  grids.push(Object.assign({containLabel:false}, b));
  const common = {gridIndex:i, type:'value', splitLine:{show:false},
    axisLine:{onZero:false, lineStyle:{color:AX, width:1.3}},
    axisTick:{inside:true, length:5, lineStyle:{color:AX, width:1.3}}};
  xAxes.push(Object.assign({}, common, {position:'bottom', min:xTicks[0], max:xTicks[2], interval:xTicks[1]-xTicks[0],
    axisLabel:Object.assign({margin:11, formatter:plain}, tickFont),
    name:'t', nameLocation:'middle', nameGap:35,
    nameTextStyle:{fontFamily:'DejaVu Serif', fontStyle:'italic', fontWeight:'bold', fontSize:25, color:'#222'}}));
  xAxes.push(Object.assign({}, common, {position:'top', min:xTicks[0], max:xTicks[2], interval:xTicks[1]-xTicks[0], axisLabel:{show:false}}));
  const yl = Object.assign({}, common, {position:'left', min:yt[0], max:yt[yt.length-1], interval:yt[1]-yt[0],
    axisLabel:Object.assign({margin:8, formatter:plain}, tickFont)});
  if(i===0){ Object.assign(yl,{name:'x', nameLocation:'middle', nameRotate:90, nameGap:58,
    nameTextStyle:{fontFamily:'DejaVu Serif', fontStyle:'italic', fontWeight:'bold', fontSize:30, color:'#222'}}); }
  if(i===4){ Object.assign(yl,{name:'X', nameLocation:'middle', nameRotate:90, nameGap:78,
    nameTextStyle:{fontFamily:'DejaVu Serif', fontWeight:'bold', fontSize:24, color:'#222'}}); }
  yAxes.push(yl);
  yAxes.push(Object.assign({}, common, {position:'right', min:yt[0], max:yt[yt.length-1], interval:yt[1]-yt[0], axisLabel:{show:false}}));
  series.push({type:'line', name:seriesNames[0], xAxisIndex:2*i, yAxisIndex:2*i, data:panelData[i][0],
    showSymbol:false, symbol:'none', color:'#a6a6a6', lineStyle:{color:'#a6a6a6', width:1.6}, z:2, silent:true, animation:false});
  series.push({type:'line', name:seriesNames[1], xAxisIndex:2*i, yAxisIndex:2*i, data:panelData[i][1],
    showSymbol:false, symbol:'none', color:'#e00000', lineStyle:{color:'#e00000', width:1.7}, z:3, silent:true, animation:false});
  // panel letter
  graphics.push({type:'text', x: b.left-64, y: top ? 25 : 326,
    style:{text:panelLabels[i], fontFamily:'DejaVu Sans', fontWeight:'bold', fontSize:23, fill:'#111', align:'left', verticalAlign:'middle'}});
  if(top){
    graphics.push({type:'text', x: b.left+b.width-8, y: b.top+b.height-16,
      style:{text:epsLabels[i], fontFamily:'DejaVu Serif', fontWeight:'bold', fontSize:19, fill:'#222', align:'right', verticalAlign:'middle'}});
  }
});
const chart = echarts.init(document.getElementById('c'));
chart.setOption({
  animation:false, backgroundColor:'#fff',
  grid:grids, xAxis:xAxes, yAxis:yAxes, series:series, graphic:graphics,
  legend:{data:seriesNames, left:382, top:643, icon:'rect', itemWidth:24, itemHeight:2.5, itemGap:72,
    textStyle:{fontFamily:'DejaVu Serif', fontWeight:'bold', fontSize:27, color:'#111'}, selectedMode:false}
});
</script></body></html>
